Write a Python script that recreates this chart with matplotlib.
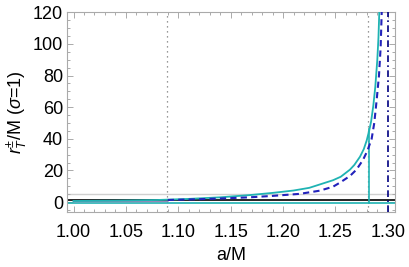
import matplotlib
matplotlib.use("Agg")
from matplotlib import pyplot as plt
from matplotlib.ticker import MultipleLocator

plt.rcParams['font.family'] = ['Liberation Sans', 'DejaVu Sans']
plt.rcParams['mathtext.fontset'] = 'custom'
plt.rcParams['mathtext.rm'] = 'Liberation Sans'
plt.rcParams['mathtext.it'] = 'Liberation Sans:italic'

# r_T^+ (solid cyan)
a_plus = [1.000, 1.040, 1.080, 1.110, 1.140, 1.168, 1.190, 1.210, 1.225, 1.2476,
          1.255, 1.2638, 1.268, 1.2734, 1.277, 1.2798, 1.2823, 1.284, 1.2861,
          1.288, 1.2899, 1.2910, 1.2918, 1.2924]
r_plus = [0.7, 0.9, 1.3, 2.0, 3.0, 4.4, 5.8, 7.3, 9.0, 13.8,
          16.0, 20.5, 23.5, 28.7, 33.5, 39.0, 45.6, 51.0, 61.0,
          73.0, 90.0, 104.0, 120.0, 132.0]

# r_T^- (dashed blue)
a_minus = [1.090, 1.120, 1.150, 1.168, 1.190, 1.216, 1.235, 1.2476, 1.2543,
           1.2638, 1.270, 1.2762, 1.2805, 1.2845, 1.287, 1.2893, 1.2915,
           1.2931, 1.2941, 1.2946]
r_minus = [1.3, 1.8, 2.5, 3.0, 3.9, 5.2, 7.2, 9.7, 12.3,
           16.5, 20.5, 26.6, 32.5, 40.0, 50.0, 64.6, 80.0,
           98.0, 120.0, 132.0]

# faint branch at small a
a_low = [1.000, 1.050, 1.090]
r_low = [0.3, 0.3, 0.4]

# reference lines
h_gray = 5.0
h_black = 1.5
h_cyan = -0.8
v_dotted = [1.0895, 1.2813]
v_cyan = 1.282
v_cyan_top = 46.5
v_dashdot = 1.2999

fig = plt.figure(figsize=(4.09, 2.67), dpi=100)
ax = fig.add_axes([0.1646, 0.2071, 0.8012, 0.7491])

ax.axhline(h_gray, color='#d0d0d0', lw=1.0, zorder=1)
ax.axhline(h_black, color='black', lw=1.2, zorder=2)
ax.axhline(h_cyan, color='#1fb3b3', lw=1.2, zorder=2)
for v in v_dotted:
    ax.axvline(v, color='#777777', lw=0.9, ls=(0, (1, 3)), zorder=1)
ax.plot([v_cyan, v_cyan], [h_cyan, v_cyan_top], color='#1fb3b3', lw=1.2, zorder=3)
ax.axvline(v_dashdot, color='#000080', lw=1.2, ls=(0, (4, 2, 1, 2)), zorder=3)

ax.plot(a_low, r_low, color='#9a88b8', lw=1.0, zorder=2)
ax.plot(a_plus, r_plus, color='#1fb3b3', lw=1.3, zorder=4)
ax.plot(a_minus, r_minus, color='#2222bb', lw=1.5, ls=(0, (3, 2)), zorder=4)

ax.set_xlim(0.9941, 1.3068)
ax.set_ylim(-6.1, 120.4)
ax.xaxis.set_major_locator(MultipleLocator(0.05))
ax.xaxis.set_minor_locator(MultipleLocator(0.01))
ax.yaxis.set_major_locator(MultipleLocator(20))
ax.yaxis.set_minor_locator(MultipleLocator(5))
ax.xaxis.set_major_formatter(plt.FormatStrFormatter('%.2f'))

ax.tick_params(which='both', direction='in', top=True, right=True, color='#aaaaaa',
               labelsize=13, width=0.7)
ax.tick_params(which='major', length=4)
ax.tick_params(which='minor', length=2)
ax.tick_params(axis='x', pad=9)
ax.tick_params(axis='y', pad=3)
for s in ax.spines.values():
    s.set_color('#aaaaaa')
    s.set_linewidth(0.8)

ax.set_xlabel('a/M', fontsize=13, labelpad=4)
ax.set_ylabel(r'$r_T^{\pm}$/M ($\sigma$=1)', fontsize=13, labelpad=3)

fig.savefig('out.png', dpi=100)
